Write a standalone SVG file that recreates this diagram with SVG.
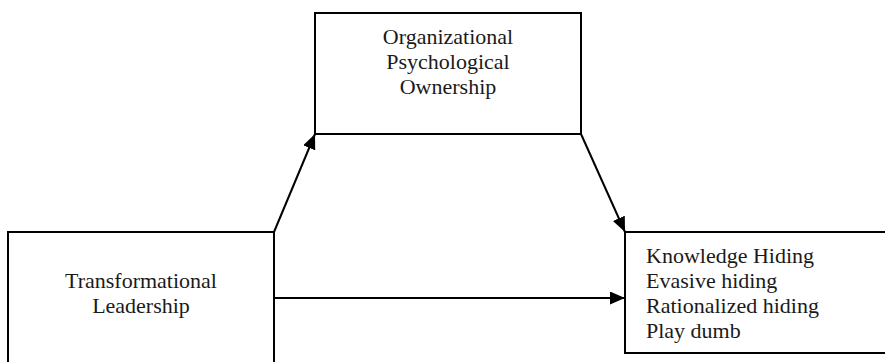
<svg xmlns="http://www.w3.org/2000/svg" width="885" height="362" viewBox="0 0 885 362">
<style>
.box{fill:#fff;stroke:#000;stroke-width:2}
.t{font-family:"Liberation Serif","Times New Roman",serif;font-size:22px;fill:#1a1a1a}
.c{text-anchor:middle}
.edge{stroke:#000;stroke-width:2;fill:none}
</style>
<defs>
<marker id="ah" markerUnits="userSpaceOnUse" markerWidth="16" markerHeight="14" refX="15" refY="6.5" orient="auto">
<path d="M0,0 L15,6.5 L0,13 Z" fill="#000"/>
</marker>
</defs>
<rect width="885" height="362" fill="#fff"/>
<g id="node-ops">
<rect class="box" x="315" y="13" width="266" height="121"/>
<text class="t c" x="448" y="44">Organizational</text>
<text class="t c" x="448" y="69">Psychological</text>
<text class="t c" x="448" y="94">Ownership</text>
</g>
<g id="node-tl">
<rect class="box" x="8" y="232" width="266" height="140"/>
<text class="t c" x="141" y="288">Transformational</text>
<text class="t c" x="141" y="313">Leadership</text>
</g>
<g id="node-kh">
<rect class="box" x="625" y="232" width="270" height="121"/>
<text class="t" x="646" y="263">Knowledge Hiding</text>
<text class="t" x="646" y="288">Evasive hiding</text>
<text class="t" x="646" y="313">Rationalized hiding</text>
<text class="t" x="646" y="338">Play dumb</text>
</g>
<g id="connectors">
<line class="edge" x1="274" y1="232" x2="315" y2="134" marker-end="url(#ah)"/>
<line class="edge" x1="581" y1="134" x2="625" y2="232" marker-end="url(#ah)"/>
<line class="edge" x1="274" y1="298" x2="625" y2="298" marker-end="url(#ah)"/>
</g>
</svg>
